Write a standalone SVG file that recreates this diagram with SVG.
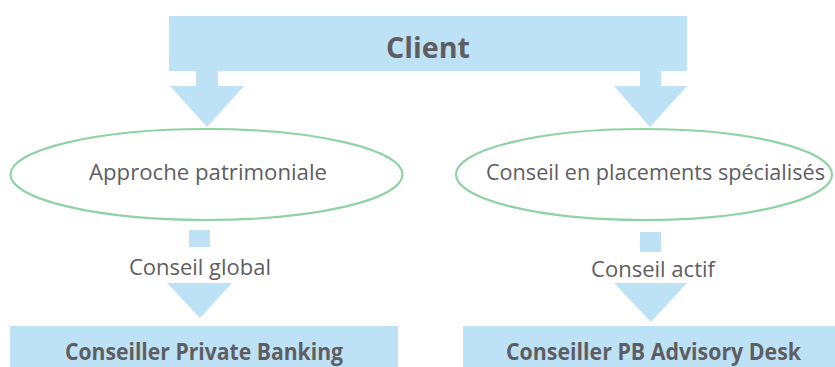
<svg xmlns="http://www.w3.org/2000/svg" width="835" height="367" viewBox="0 0 835 367">
<style>
.blue{fill:#bde1f5;stroke:none}
.ell{fill:#ffffff;stroke:#8fd3a5;stroke-width:2.2}
text{font-family:"Open Sans","Liberation Sans",sans-serif;fill:#5e5e62;text-anchor:middle}
.b{font-weight:bold}
</style>
<rect width="835" height="367" fill="#ffffff"/>
<g id="client">
<rect class="blue" x="169" y="16" width="518" height="55"/>
<text class="b" x="428" y="58" font-size="29" textLength="84" lengthAdjust="spacingAndGlyphs">Client</text>
</g>
<g id="connectors">
<polygon class="blue" points="196,70 218,70 218,86 244,86 207,127 170,86 196,86"/>
<polygon class="blue" points="640,70 661,70 661,86 687,86 650,127 614,86 640,86"/>
<rect class="blue" x="189" y="230" width="21" height="17"/>
<polygon class="blue" points="167,283 232,283 200,318"/>
<rect class="blue" x="640" y="232" width="21" height="20"/>
<polygon class="blue" points="614,283 687,283 651,322"/>
<text x="200" y="275" font-size="22" textLength="142" lengthAdjust="spacingAndGlyphs">Conseil global</text>
<text x="653" y="277" font-size="22" textLength="124" lengthAdjust="spacingAndGlyphs">Conseil actif</text>
</g>
<g id="approche">
<ellipse class="ell" cx="206.5" cy="174.5" rx="196" ry="45.5"/>
<text x="208" y="180" font-size="22" textLength="238" lengthAdjust="spacingAndGlyphs">Approche patrimoniale</text>
</g>
<g id="conseil-placements">
<ellipse class="ell" cx="644" cy="174.5" rx="188" ry="45.5"/>
<text x="655.5" y="180" font-size="22" textLength="339" lengthAdjust="spacingAndGlyphs">Conseil en placements spécialisés</text>
</g>
<g id="private-banking">
<rect class="blue" x="10" y="326" width="388" height="41"/>
<text class="b" x="204" y="360" font-size="22.5" textLength="278" lengthAdjust="spacingAndGlyphs">Conseiller Private Banking</text>
</g>
<g id="advisory-desk">
<rect class="blue" x="463" y="326" width="372" height="41"/>
<text class="b" x="653.5" y="360" font-size="22.5" textLength="295" lengthAdjust="spacingAndGlyphs">Conseiller PB Advisory Desk</text>
</g>
</svg>
